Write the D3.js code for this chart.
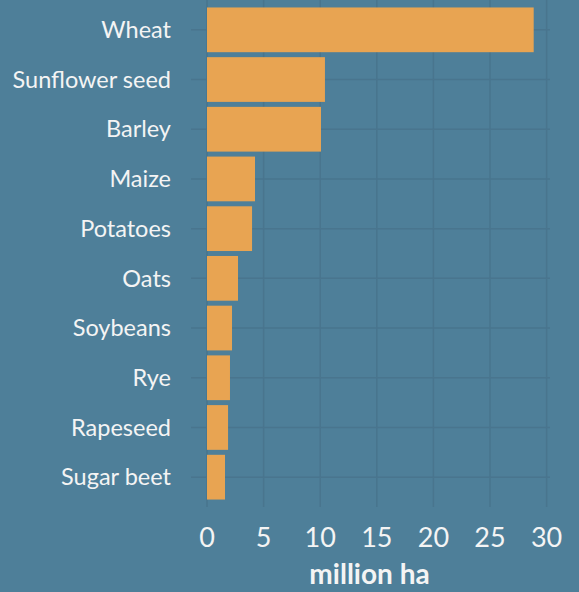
<!DOCTYPE html>
<html>
<head>
<meta charset="utf-8">
<script src="https://cdn.jsdelivr.net/npm/d3@7"></script>
<style>
  body { margin: 0; background: #4e7f99; }
  svg { display: block; }
  text { font-family: Lato, "Open Sans", sans-serif; fill: #f4f4f4; }
</style>
</head>
<body>
<svg id="chart" width="579" height="592"></svg>
<script>

var crops = ["Wheat", "Sunflower seed", "Barley", "Maize", "Potatoes",
             "Oats", "Soybeans", "Rye", "Rapeseed", "Sugar beet"];
var area = [28.86, 10.42, 10.07, 4.24, 3.98, 2.74, 2.21, 2.03, 1.86, 1.59];
var xTicks = [0, 5, 10, 15, 20, 25, 30];

var width = 579,
    height = 592,
    gridColor = "#49758e",
    barColor = "#e8a452";

var svg = d3.select("#chart");

var x = d3.scaleLinear()
    .domain([0, 30])
    .range([207, 546.6]);

var y = d3.scaleBand()
    .domain(crops)
    .range([0, 507])
    .paddingInner(0.1)
    .paddingOuter(0.15);

// grid
svg.append("g").selectAll("line.v")
    .data(xTicks)
    .enter().append("line")
    .attr("x1", function(d){ return x(d); })
    .attr("x2", function(d){ return x(d); })
    .attr("y1", 0)
    .attr("y2", 507)
    .attr("stroke", gridColor)
    .attr("stroke-width", 1.5);

svg.append("g").selectAll("line.h")
    .data(crops)
    .enter().append("line")
    .attr("x1", 191)
    .attr("x2", 550)
    .attr("y1", function(d){ return y(d) + y.bandwidth()/2; })
    .attr("y2", function(d){ return y(d) + y.bandwidth()/2; })
    .attr("stroke", gridColor)
    .attr("stroke-width", 1.5);

// bars
svg.append("g").selectAll("rect")
    .data(crops)
    .enter().append("rect")
    .attr("x", x(0))
    .attr("y", function(d){ return y(d); })
    .attr("width", function(d,i){ return x(area[i]) - x(0); })
    .attr("height", y.bandwidth())
    .attr("fill", barColor);

// category labels
svg.append("g").selectAll("text")
    .data(crops)
    .enter().append("text")
    .attr("x", 171)
    .attr("y", function(d){ return y(d) + y.bandwidth()/2; })
    .attr("dy", "0.35em")
    .attr("text-anchor", "end")
    .style("font-size", "23.5px")
    .text(function(d){ return d; });

// x tick labels
svg.append("g").selectAll("text")
    .data(xTicks)
    .enter().append("text")
    .attr("x", function(d){ return x(d); })
    .attr("y", 547)
    .attr("text-anchor", "middle")
    .style("font-size", "27px")
    .text(function(d){ return d; });

svg.append("text")
    .attr("x", 369.5)
    .attr("y", 584)
    .attr("text-anchor", "middle")
    .style("font-size", "28px")
    .style("font-weight", "bold")
    .text("million ha");

</script>
</body>
</html>
